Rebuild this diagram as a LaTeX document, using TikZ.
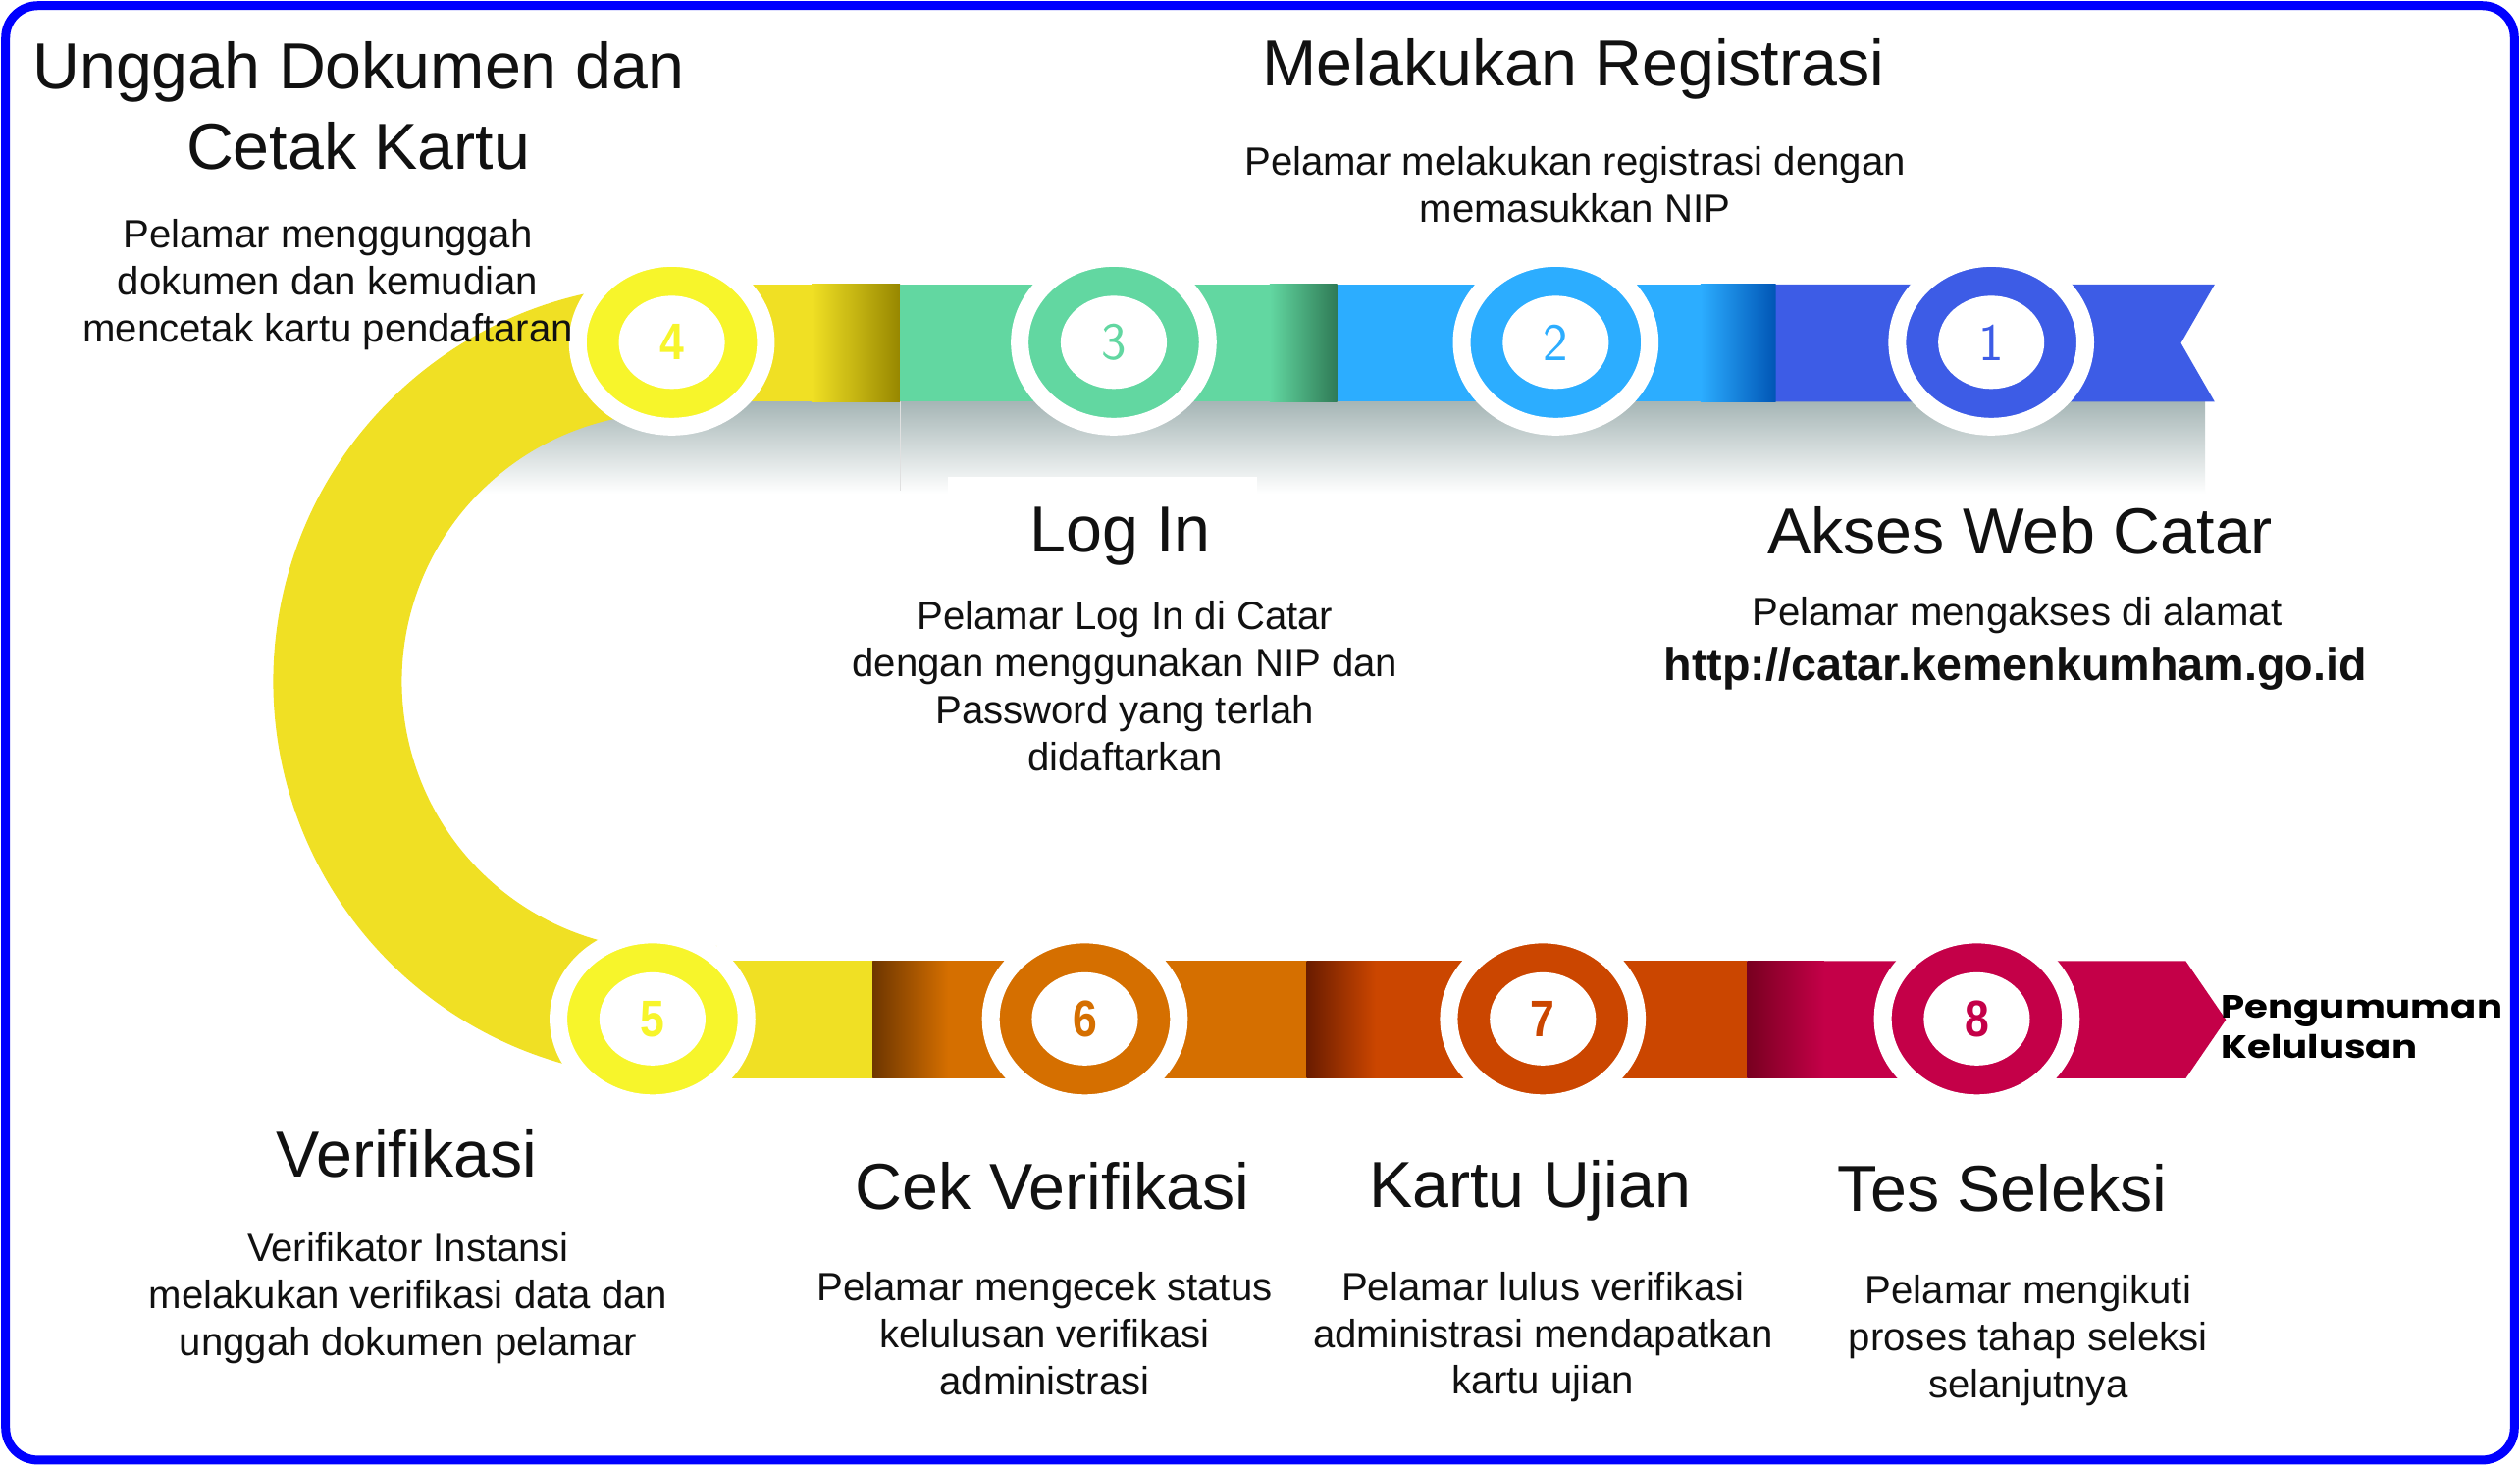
\documentclass[tikz,border=0pt]{standalone}
\usepackage{fontspec}
\setmainfont{Liberation Sans}
\newfontfamily\popfont{Poppins}
\usetikzlibrary{shapes.geometric}
\definecolor{arcY}{HTML}{F0E024}
\definecolor{ringY}{HTML}{F7F52B}
\definecolor{oliveD}{HTML}{978700}
\definecolor{greenC}{HTML}{62D7A1}
\definecolor{greenD}{HTML}{2F7A55}
\definecolor{lblue}{HTML}{2CADFF}
\definecolor{lblueD}{HTML}{0055B5}
\definecolor{blueC}{HTML}{3D5CE6}
\definecolor{orangeC}{HTML}{D56F00}
\definecolor{orangeD}{HTML}{6E3600}
\definecolor{redC}{HTML}{CB4600}
\definecolor{redD}{HTML}{6A1C00}
\definecolor{crimC}{HTML}{C40048}
\definecolor{crimD}{HTML}{780020}
\definecolor{shadowC}{HTML}{A6B6B6}
\definecolor{borderC}{HTML}{0000FF}
\definecolor{txt}{HTML}{111111}
\tikzset{
  ring/.style={ellipse, draw=white, line width=11, fill=#1, minimum width=117, minimum height=105, inner sep=0},
  hole/.style={ellipse, fill=white, minimum width=66, minimum height=58, inner sep=0, text=#1},
  ttl/.style={font=\fontsize{40.5}{50}\selectfont, align=center, inner sep=0, text=txt},
  bodytxt/.style={font=\fontsize{24.5}{29.3}\selectfont, align=center, inner sep=0, text=txt},
  thinnum/.style={font=\sffamily\fontsize{33}{33}\selectfont},
  boldnum/.style={font=\bfseries\fontsize{32}{32}\selectfont},
}
\begin{document}
\begin{tikzpicture}[x=1pt,y=-1pt]
\useasboundingbox (0,0) rectangle (1568,912);
\fill[white] (0,0) rectangle (1568,912);
% shadow under top band
\shade[top color=shadowC, bottom color=white] (290,250) rectangle (1372,307);
\draw[black!12, line width=0.8] (560,250) -- (560,305);
\fill[white] (590,297) rectangle (782,312);
% yellow arc
\fill[arcY] (459.9,180.8) arc[start angle=-80,end angle=-280,radius=247] -- (446,588.5) arc[start angle=-280,end angle=-80,radius=167] -- cycle;
% top band
\fill[arcY] (418,177) rectangle (560,250);
\shade[left color=arcY, right color=oliveD] (505,177) rectangle (560,250);
\fill[greenC] (560,177) rectangle (832,250);
\shade[left color=greenC, right color=greenD] (790,177) rectangle (832,250);
\fill[lblue] (832,177) rectangle (1105,250);
\shade[left color=lblue, right color=lblueD] (1058,177) rectangle (1105,250);
\fill[blueC] (1105,177) -- (1378,177) -- (1357,213.5) -- (1378,250) -- (1105,250) -- cycle;
% bottom band
\fill[arcY] (406,598) rectangle (543,671);
\fill[orangeC] (543,598) rectangle (813,671);
\shade[left color=orangeD, right color=orangeC] (543,598) rectangle (590,671);
\fill[redC] (813,598) rectangle (1087,671);
\shade[left color=redD, right color=redC] (813,598) rectangle (856,671);
\fill[crimC] (1087,598) -- (1360,598) -- (1385,634.5) -- (1360,671) -- (1087,671) -- cycle;
\shade[left color=crimD, right color=crimC] (1087,598) rectangle (1135,671);
% circles
\node[ring=ringY] (c4) at (418,213) {};
\node[hole=ringY, boldnum] (n4) at (c4) {\scalebox{0.85}[1]{4}};
\node[ring=greenC] (c3) at (693,213) {};
\node[hole=greenC, thinnum] (n3) at (c3) {3};
\node[ring=lblue] (c2) at (968,213) {};
\node[hole=lblue, thinnum] (n2) at (c2) {2};
\node[ring=blueC] (c1) at (1239,213) {};
\node[hole=blueC, thinnum] (n1) at (c1) {1};
\node[ring=ringY] (c5) at (406,634) {};
\node[hole=ringY, boldnum] (n5) at (c5) {\scalebox{0.85}[1]{5}};
\node[ring=orangeC] (c6) at (675,634) {};
\node[hole=orangeC, boldnum] (n6) at (c6) {\scalebox{0.85}[1]{6}};
\node[ring=redC] (c7) at (960,634) {};
\node[hole=redC, boldnum] (n7) at (c7) {\scalebox{0.85}[1]{7}};
\node[ring=crimC] (c8) at (1230,634) {};
\node[hole=crimC, boldnum] (n8) at (c8) {\scalebox{0.85}[1]{8}};
% texts
\node[ttl] (t4) at (223,66) {Unggah Dokumen dan\\Cetak Kartu};
\node[bodytxt] (d4) at (204,177) {Pelamar menggunggah\\dokumen dan kemudian\\mencetak kartu pendaftaran};
\node[ttl] (t2) at (979,43) {Melakukan Registrasi};
\node[bodytxt] (d2) at (980,115) {Pelamar melakukan registrasi dengan\\memasukkan NIP};
\node[ttl] (t3) at (697,334) {Log In};
\node[bodytxt] (d3) at (700,427) {Pelamar Log In di Catar\\dengan menggunakan NIP dan\\Password yang terlah\\didaftarkan};
\node[ttl] (t1) at (1257,330) {Akses Web Catar};
\node[bodytxt] (d1) at (1255,383) {Pelamar mengakses di alamat};
\node[bodytxt, font=\bfseries\fontsize{28.5}{30}\selectfont] (u1) at (1254,416) {http://catar.kemenkumham.go.id};
\node[ttl] (t5) at (253,718) {Verifikasi};
\node[bodytxt] (d5) at (254,808) {Verifikator Instansi\\melakukan verifikasi data dan\\unggah dokumen pelamar};
\node[ttl] (t6) at (655,738) {Cek Verifikasi};
\node[bodytxt] (d6) at (650,830) {Pelamar mengecek status\\kelulusan verifikasi\\administrasi};
\node[ttl] (t7) at (952,741) {Kartu Ujian};
\node[bodytxt] (d7) at (960,832) {Pelamar lulus verifikasi\\administrasi mendapatkan\\kartu ujian};
\node[ttl] (t8) at (1246,739) {Tes Seleksi};
\node[bodytxt] (d8) at (1262,834) {Pelamar mengikuti\\proses tahap seleksi\\selanjutnya};
\node[anchor=west, inner sep=0, align=left, text=black, font=\popfont\bfseries\fontsize{20}{25}\selectfont] (fin) at (1382,639) {\scalebox{1.18}[1]{Pengumuman}\\\scalebox{1.18}[1]{Kelulusan}};
% border
\draw[borderC, line width=5.5, rounded corners=20] (3.5,3.5) rectangle (1564.5,908.5);
\end{tikzpicture}
\end{document}
